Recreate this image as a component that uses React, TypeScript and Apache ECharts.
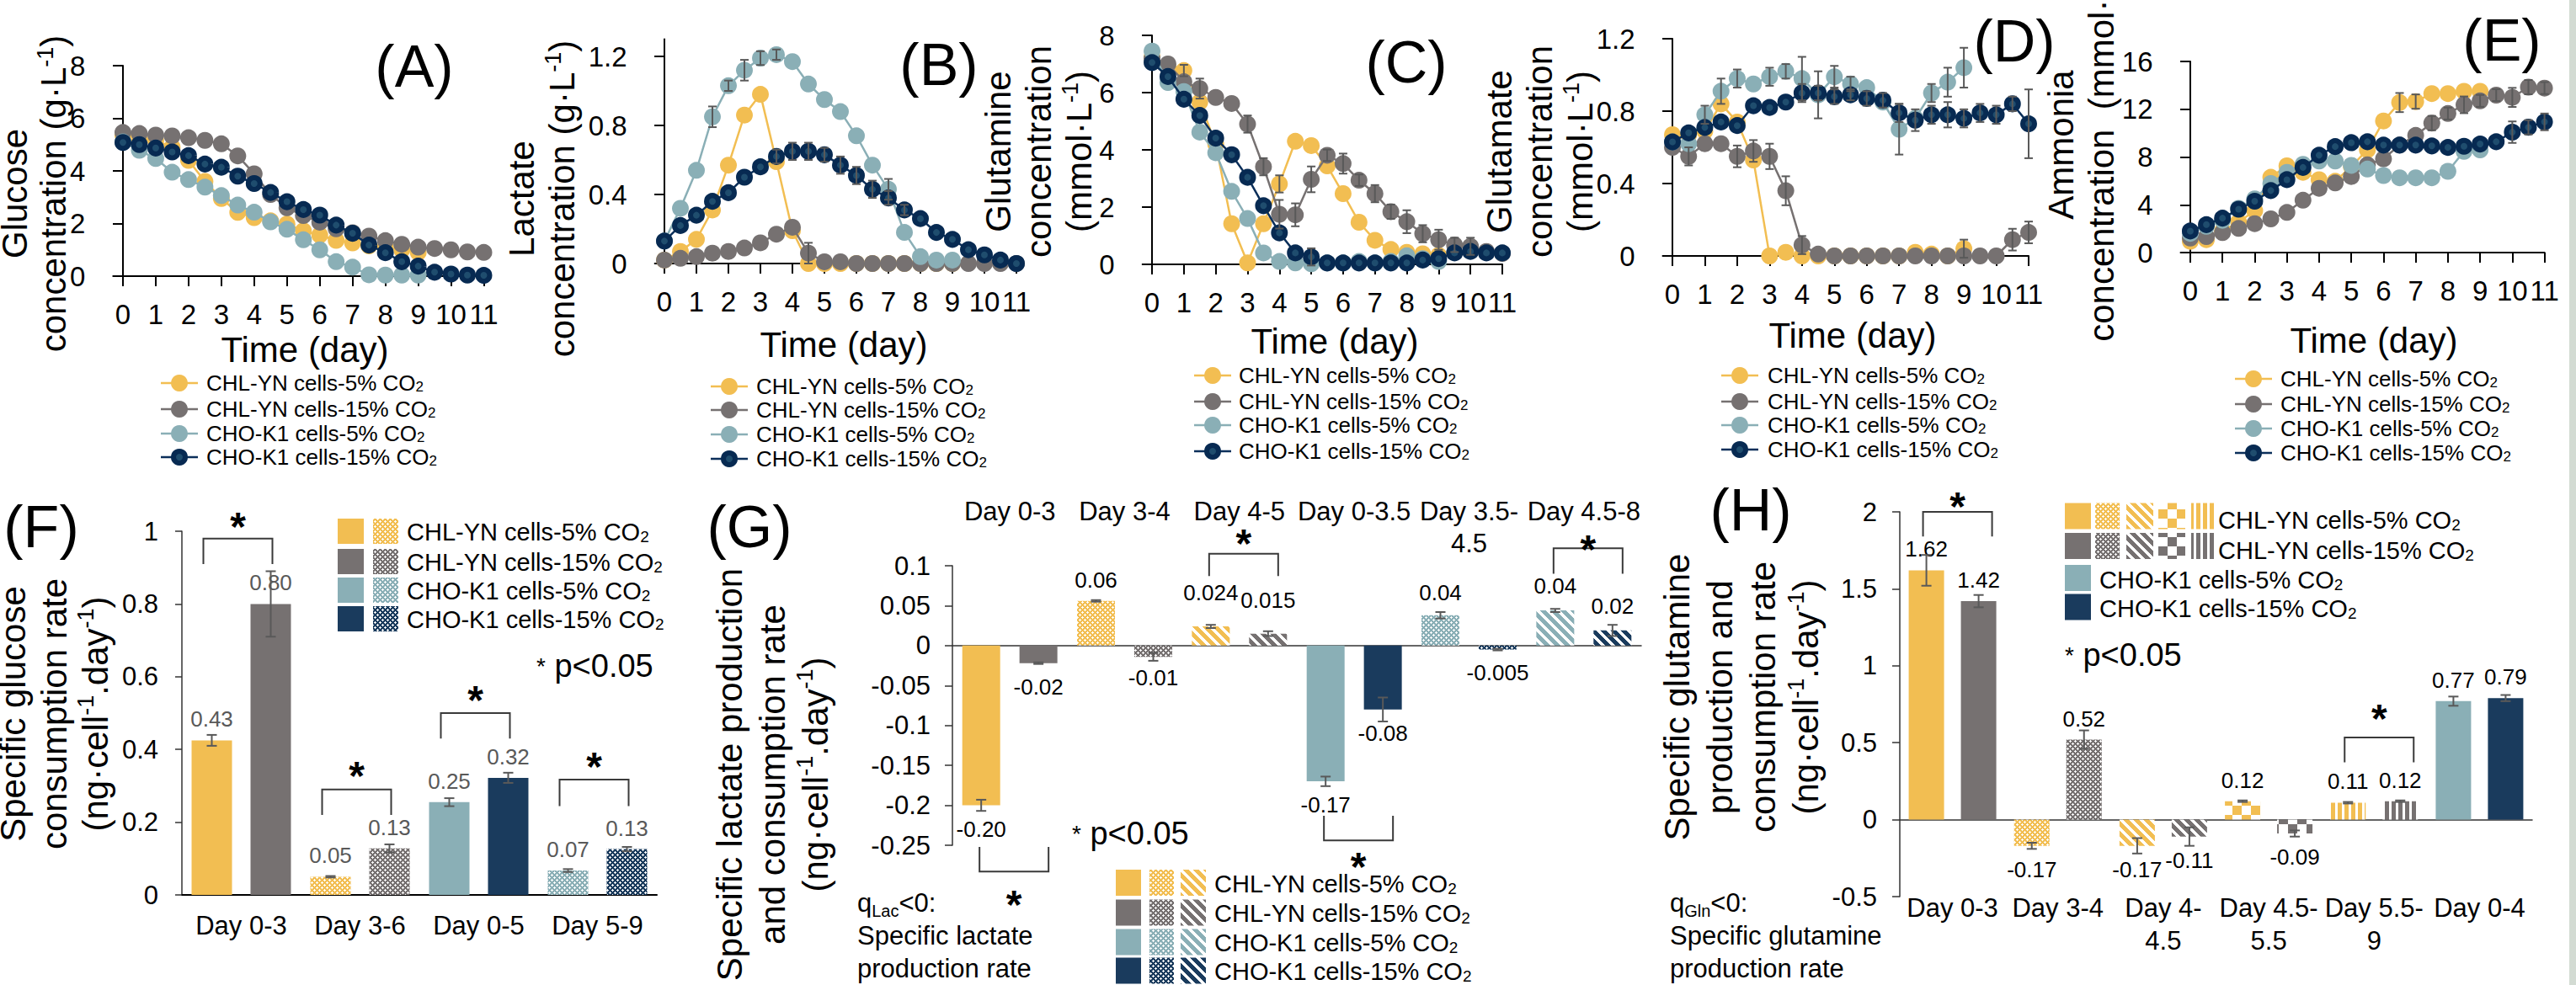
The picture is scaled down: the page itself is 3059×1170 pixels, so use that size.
import React, { useEffect, useRef } from 'react';
import * as echarts from 'echarts';

const FONT = '"Liberation Sans", Arial, Helvetica, sans-serif';

// ---------------- data ----------------
const DAYS = [0, 0.5, 1, 1.5, 2, 2.5, 3, 3.5, 4, 4.5, 5, 5.5, 6, 6.5, 7, 7.5, 8, 8.5, 9, 9.5, 10, 10.5, 11];
const DAY_TICKS = [0, 1, 2, 3, 4, 5, 6, 7, 8, 9, 10, 11];
const SERIES_NAMES = ['CHL-YN cells-5% CO2', 'CHL-YN cells-15% CO2', 'CHO-K1 cells-5% CO2', 'CHO-K1 cells-15% CO2'];
const LEGEND_TEXT = ['CHL-YN cells-5% CO{s|2}', 'CHL-YN cells-15% CO{s|2}', 'CHO-K1 cells-5% CO{s|2}', 'CHO-K1 cells-15% CO{s|2}'];

// (A) glucose, g/L
const A_CHL5 = [5.35, 5.25, 5.15, 4.9, 4.4, 3.6, 2.95, 2.42, 2.22, 2.1, 1.98, 1.72, 1.56, 1.36, 1.26, 1.15, 1.1, 1.0, 0.9];
const A_CHL15 = [5.46, 5.42, 5.36, 5.33, 5.26, 5.16, 5.03, 4.57, 3.89, 3.1, 2.6, 2.3, 2.05, 1.8, 1.65, 1.52, 1.35, 1.21, 1.1, 1.05, 1.0, 0.92, 0.9];
const A_CHO5 = [5.1, 4.78, 4.47, 3.95, 3.67, 3.38, 3.06, 2.7, 2.43, 2.06, 1.78, 1.38, 1.0, 0.55, 0.34, 0.05, 0.04, 0.04, 0.04];
const A_CHO15 = [5.08, 5.0, 4.87, 4.72, 4.58, 4.26, 4.14, 3.8, 3.52, 3.18, 2.83, 2.53, 2.32, 1.94, 1.63, 1.18, 0.89, 0.55, 0.38, 0.15, 0.08, 0.04, 0.03];

// (B) lactate, g/L
const B_CHL5 = [0.02, 0.07, 0.14, 0.31, 0.57, 0.86, 0.98, 0.59, 0.19, 0.0, 0.0, 0.0, 0.0, 0.0, 0.0, 0.0, 0.0, 0.0, 0.0];
const B_CHL15 = [0.02, 0.03, 0.04, 0.06, 0.07, 0.09, 0.12, 0.17, 0.21, 0.06, 0.01, 0.01, 0.0, 0.0, 0.0, 0.0, 0.0, 0.0, 0.0, 0.0, 0.0, 0.0, 0.0];
const B_CHO5 = [0.13, 0.32, 0.54, 0.85, 1.03, 1.12, 1.19, 1.21, 1.17, 1.04, 0.95, 0.88, 0.74, 0.57, 0.43, 0.18, 0.04, 0.02, 0.02];
const B_CHO15 = [0.13, 0.22, 0.28, 0.36, 0.41, 0.5, 0.56, 0.62, 0.65, 0.65, 0.63, 0.57, 0.51, 0.43, 0.38, 0.31, 0.26, 0.18, 0.14, 0.08, 0.05, 0.02, 0.0];
const B_CHL15_ERR = [0, 0, 0, 0, 0, 0, 0, 0, 0, 0.06, 0, 0, 0, 0, 0, 0, 0, 0, 0, 0, 0, 0, 0];
const B_CHO5_ERR = [0, 0, 0, 0.06, 0.03, 0.06, 0.04, 0.03, 0, 0, 0, 0, 0, 0, 0.06, 0, 0, 0, 0];
const B_CHO15_ERR = [0, 0, 0, 0, 0, 0, 0, 0.04, 0.05, 0.05, 0.04, 0.05, 0.05, 0.05, 0.04, 0.03, 0, 0, 0, 0, 0, 0, 0];

// (C) glutamine, mmol/L
const C_CHL5 = [7.24, 6.9, 6.77, 5.67, 4.2, 1.42, 0.05, 1.42, 2.81, 4.3, 4.15, 3.44, 2.47, 1.47, 0.84, 0.52, 0.42, 0.37, 0.31];
const C_CHL15 = [7.2, 7.0, 6.38, 6.14, 5.83, 5.62, 4.9, 3.41, 1.75, 1.73, 2.97, 3.81, 3.52, 2.94, 2.47, 1.84, 1.49, 1.07, 0.86, 0.68, 0.63, 0.45, 0.38];
const C_CHO5 = [7.45, 6.35, 6.04, 4.62, 3.9, 2.55, 1.6, 0.4, 0.1, 0.05, 0.02, 0.05, 0.05, 0.1, 0.05, 0.1, 0.3, 0.2, 0.1];
const C_CHO15 = [7.05, 6.56, 5.77, 5.2, 4.41, 3.83, 3.04, 2.05, 1.1, 0.4, 0.26, 0.05, 0.05, 0.05, 0.05, 0.05, 0.05, 0.15, 0.2, 0.4, 0.45, 0.4, 0.4];
const C_CHL5_ERR = [0, 0, 0.2, 0, 0, 0, 0, 0, 0.3, 0, 0, 0, 0, 0, 0, 0, 0, 0, 0];
const C_CHL15_ERR = [0, 0, 0, 0.35, 0, 0, 0.3, 0.3, 0.5, 0.4, 0.45, 0.2, 0.35, 0.2, 0.3, 0.25, 0.4, 0.3, 0.35, 0.25, 0.3, 0, 0];
const C_CHO15_ERR = [0, 0, 0, 0, 0, 0, 0, 0, 0, 0, 0.3, 0, 0, 0, 0, 0, 0, 0, 0, 0, 0, 0, 0];

// (D) glutamate, mmol/L
const D_CHL5 = [0.67, 0.67, 0.69, 0.84, 0.74, 0.53, 0.0, 0.02, 0.0, 0.0, 0.0, 0.0, 0.0, 0.0, 0.0, 0.02, 0.01, 0.0, 0.04];
const D_CHL15 = [0.6, 0.55, 0.62, 0.62, 0.55, 0.58, 0.55, 0.36, 0.06, 0.01, 0.0, 0.0, 0.0, 0.0, 0.0, 0.0, 0.0, 0.0, 0.0, 0.0, 0.0, 0.09, 0.13];
const D_CHO5 = [0.63, 0.62, 0.78, 0.91, 0.98, 0.95, 0.99, 1.02, 0.98, 0.89, 0.99, 0.95, 0.93, 0.85, 0.7, 0.76, 0.9, 0.96, 1.04];
const D_CHO15 = [0.63, 0.68, 0.71, 0.74, 0.72, 0.83, 0.82, 0.85, 0.9, 0.9, 0.88, 0.89, 0.87, 0.86, 0.79, 0.75, 0.78, 0.78, 0.76, 0.79, 0.78, 0.84, 0.73];
const D_CHL5_ERR = [0, 0, 0, 0, 0, 0, 0, 0, 0, 0, 0, 0, 0, 0, 0, 0, 0, 0, 0.05];
const D_CHL15_ERR = [0, 0.05, 0, 0, 0.06, 0.06, 0.07, 0.08, 0.05, 0, 0, 0, 0, 0, 0, 0, 0, 0, 0, 0, 0, 0.06, 0.06];
const D_CHO5_ERR = [0, 0, 0.05, 0.07, 0.05, 0, 0.05, 0.04, 0.12, 0.13, 0.06, 0.04, 0, 0, 0.14, 0, 0.05, 0.08, 0.11];
const D_CHO15_ERR = [0, 0, 0, 0, 0, 0, 0, 0, 0.05, 0.04, 0.04, 0.03, 0.04, 0.04, 0.05, 0.06, 0.05, 0.07, 0.05, 0.05, 0.05, 0.04, 0.19];

// (E) ammonia, mmol/L
const E_CHL5 = [0.94, 1.08, 1.8, 2.55, 3.5, 6.3, 7.26, 6.72, 6.1, 5.97, 7.2, 8.6, 11.02, 12.56, 12.64, 13.31, 13.31, 13.5, 13.5];
const E_CHL15 = [1.21, 1.34, 1.67, 2.02, 2.42, 2.82, 3.36, 4.38, 5.38, 5.83, 6.37, 7.34, 7.85, 9.0, 9.81, 10.84, 11.64, 12.37, 12.7, 13.18, 12.99, 13.85, 13.77];
const E_CHO5 = [1.61, 2.2, 2.7, 3.7, 4.5, 5.78, 6.72, 7.39, 7.66, 7.66, 7.3, 6.99, 6.45, 6.26, 6.26, 6.26, 6.8, 8.47, 8.6];
const E_CHO15 = [1.8, 2.34, 2.88, 3.63, 4.3, 5.19, 6.1, 7.13, 8.15, 8.87, 9.2, 9.28, 9.0, 9.0, 9.0, 8.93, 8.8, 8.9, 9.09, 9.28, 10.08, 10.49, 10.94];
const E_CHL5_ERR = [0, 0, 0, 0, 0, 0, 0, 0, 0, 0, 0, 0, 0, 0.8, 0.6, 0, 0, 0, 0];
const E_CHL15_ERR = [0, 0, 0, 0, 0, 0, 0, 0, 0, 0, 0, 0, 0, 0, 0, 0.6, 0.5, 0.7, 0.5, 0.5, 0.8, 0.6, 0.5];
const E_CHO15_ERR = [0, 0, 0, 0, 0, 0, 0, 0, 0, 0, 0, 0, 0, 0, 0, 0, 0, 0, 0, 0, 0.9, 0.6, 0.7];

// (F) specific glucose consumption rate
const F_CATS = ['Day 0-3', 'Day 3-6', 'Day 0-5', 'Day 5-9'];
const F_5 = [0.425, 0.05, 0.255, 0.067];
const F_15 = [0.8, 0.128, 0.322, 0.126];
const F_5_ERR = [0.015, 0.002, 0.011, 0.004];
const F_15_ERR = [0.09, 0.011, 0.014, 0.006];
const F_5_LABELS = ['0.43', '0.05', '0.25', '0.07'];
const F_15_LABELS = ['0.80', '0.13', '0.32', '0.13'];
const F_BR_CATS = [0, 1, 2, 3];
const F_BR_TOP = [0.98, 0.29, 0.5, 0.317];
const F_BR_LEG = [0.91, 0.22, 0.43, 0.244];
const F_BR_STAR = [1.035, 0.35, 0.56, 0.377];

// (G) specific lactate production / consumption rate
const G_CATS = ['Day 0-3', 'Day 3-4', 'Day 4-5', 'Day 0-3.5', 'Day 3.5-\n4.5', 'Day 4.5-8'];
const G_5 = [-0.2, 0.056, 0.024, -0.17, 0.038, 0.044];
const G_15 = [-0.022, -0.014, 0.015, -0.08, -0.005, 0.019];
const G_5_ERR = [0.007, 0.001, 0.002, 0.006, 0.004, 0.002];
const G_15_ERR = [0.001, 0.005, 0.003, 0.015, 0.001, 0.007];
const G_5_LABELS = ['-0.20', '0.06', '0.024', '-0.17', '0.04', '0.04'];
const G_15_LABELS = ['-0.02', '-0.01', '0.015', '-0.08', '-0.005', '0.02'];
const G_BR_CATS = [0, 2, 3, 5];
const G_BR_TOP = [-0.283, 0.115, -0.244, 0.122];
const G_BR_LEG = [-0.252, 0.087, -0.213, 0.09];
const G_BR_STAR = [-0.314, 0.138, -0.266, 0.131];

// (H) specific glutamine production / consumption rate
const H_CATS = ['Day 0-3', 'Day 3-4', 'Day 4-\n4.5', 'Day 4.5-\n5.5', 'Day 5.5-\n9', 'Day 0-4'];
const H_5 = [1.62, -0.17, -0.17, 0.12, 0.11, 0.77];
const H_15 = [1.42, 0.52, -0.11, -0.09, 0.12, 0.79];
const H_5_ERR = [0.1, 0.02, 0.05, 0.005, 0.005, 0.03];
const H_15_ERR = [0.04, 0.06, 0.06, 0.02, 0.005, 0.02];
const H_5_LABELS = ['1.62', '-0.17', '-0.17', '0.12', '0.11', '0.77'];
const H_15_LABELS = ['1.42', '0.52', '-0.11', '-0.09', '0.12', '0.79'];
const H_BR_CATS = [0, 4];
const H_BR_TOP = [2.0, 0.534];
const H_BR_LEG = [1.84, 0.372];
const H_BR_STAR = [2.09, 0.714];

// ---------------- styles ----------------
const YEL = '#F2BE52';
const GRY = '#767171';
const TEAL = '#8AAFB6';
const NAVY = '#0B2F5A';
const NAVY_BAR = '#1A3B5D';
const LINE_COLORS = [YEL, GRY, TEAL, NAVY];
const ERR_COLOR = '#595959';

const F_KINDS = ['solid', 'dots', 'solid', 'dots'];
const F_5_COLORS = [YEL, YEL, TEAL, TEAL];
const F_15_COLORS = [GRY, GRY, NAVY_BAR, NAVY_BAR];
const G_KINDS = ['solid', 'dots', 'diag', 'solid', 'dots', 'diag'];
const G_5_COLORS = [YEL, YEL, YEL, TEAL, TEAL, TEAL];
const G_15_COLORS = [GRY, GRY, GRY, NAVY_BAR, NAVY_BAR, NAVY_BAR];
const G_LABEL_GAP = [15, 12, 27, 15, 14, 16];
const H_KINDS = ['solid', 'dots', 'diag', 'checker', 'vstripe', 'solid'];
const H_5_COLORS = [YEL, YEL, YEL, YEL, YEL, TEAL];
const H_15_COLORS = [GRY, GRY, GRY, GRY, GRY, NAVY_BAR];

// ---------------- helpers ----------------
const patternCache: Record<string, any> = {};
function hexRgb(h: string) {
  const n = parseInt(h.slice(1), 16);
  return [(n >> 16) & 255, (n >> 8) & 255, n & 255];
}
function isColored(kind: string, x: number, y: number) {
  const px = x + 0.5, py = y + 0.5;
  if (kind === 'dots') {
    const d1 = (px - 1.5) ** 2 + (py - 1.5) ** 2;
    const d2 = (px - 4.5) ** 2 + (py - 4.5) ** 2;
    return !(d1 <= 1.3 || d2 <= 1.3);
  }
  if (kind === 'diag') return ((((x - y) % 12) + 12) % 12) < 7;
  if (kind === 'checker') return (Math.floor(x / 11) + Math.floor(y / 11)) % 2 === 0;
  if (kind === 'vstripe') return x < 5;
  return true;
}
function fillFor(kind: string, color: string): any {
  if (kind === 'solid') return color;
  const key = kind + color;
  if (patternCache[key]) return patternCache[key];
  const N = kind === 'dots' ? 6 : kind === 'diag' ? 12 : kind === 'checker' ? 22 : 8;
  const cv = document.createElement('canvas');
  cv.width = N; cv.height = N;
  const ctx = cv.getContext('2d') as CanvasRenderingContext2D;
  const img = ctx.createImageData(N, N);
  const [r, g, b] = hexRgb(color);
  for (let y = 0; y < N; y++) {
    for (let x = 0; x < N; x++) {
      const i = (y * N + x) * 4;
      const on = isColored(kind, x, y);
      img.data[i] = on ? r : 255;
      img.data[i + 1] = on ? g : 255;
      img.data[i + 2] = on ? b : 255;
      img.data[i + 3] = 255;
    }
  }
  ctx.putImageData(img, 0, 0);
  const pat = { image: cv.toDataURL(), repeat: 'repeat', imageWidth: N, imageHeight: N };
  patternCache[key] = pat;
  return pat;
}

function errShape(x: number, y1: number, y2: number, cw: number) {
  const st = { stroke: ERR_COLOR, lineWidth: 2 };
  return {
    type: 'group',
    children: [
      { type: 'line', shape: { x1: x, y1, x2: x, y2 }, style: st },
      { type: 'line', shape: { x1: x - cw, y1, x2: x + cw, y2: y1 }, style: st },
      { type: 'line', shape: { x1: x - cw, y1: y2, x2: x + cw, y2 }, style: st },
    ],
  };
}

const axisLineStyle = { color: '#000', width: 2 };

export default function App() {
  const ref = useRef<HTMLDivElement>(null);
  useEffect(() => {
    document.body.style.margin = '0';
    document.body.style.overflow = 'hidden';
    const chart = echarts.init(ref.current as HTMLDivElement, null, { renderer: 'svg', width: 3059, height: 1170 });

    const grids: any[] = [];
    const xAxes: any[] = [];
    const yAxes: any[] = [];
    const series: any[] = [];
    const graphic: any[] = [];

    // ---------- top row line panels ----------
    const TOP = [
      { g: { left: 134.3, top: 78, width: 440.2, height: 250 }, max: 8, ticks: [0, 2, 4, 6, 8],
        data: [A_CHL5, A_CHL15, A_CHO5, A_CHO15], err: [null, null, null, null] },
      { g: { left: 777.6, top: 46.5, width: 429.4, height: 266.5 }, max: 1.3, ticks: [0, 0.4, 0.8, 1.2],
        data: [B_CHL5, B_CHL15, B_CHO5, B_CHO15], err: [null, B_CHL15_ERR, B_CHO5_ERR, B_CHO15_ERR] },
      { g: { left: 1356.7, top: 42, width: 427.3, height: 272 }, max: 8, ticks: [0, 2, 4, 6, 8],
        data: [C_CHL5, C_CHL15, C_CHO5, C_CHO15], err: [C_CHL5_ERR, C_CHL15_ERR, null, C_CHO15_ERR] },
      { g: { left: 1974.5, top: 46, width: 434.5, height: 258 }, max: 1.2, ticks: [0, 0.4, 0.8, 1.2],
        data: [D_CHL5, D_CHL15, D_CHO5, D_CHO15], err: [D_CHL5_ERR, D_CHL15_ERR, D_CHO5_ERR, D_CHO15_ERR] },
      { g: { left: 2589.5, top: 73, width: 432.1, height: 227 }, max: 16, ticks: [0, 4, 8, 12, 16],
        data: [E_CHL5, E_CHL15, E_CHO5, E_CHO15], err: [E_CHL5_ERR, E_CHL15_ERR, null, E_CHO15_ERR] },
    ];

    TOP.forEach((p, k) => {
      grids.push({ ...p.g, containLabel: false });
      xAxes.push({
        type: 'value', gridIndex: k, min: -0.3, max: 11,
        axisLine: { show: true, lineStyle: axisLineStyle },
        axisTick: { show: true, length: 12, customValues: DAY_TICKS, lineStyle: axisLineStyle },
        axisLabel: { customValues: DAY_TICKS, fontSize: 33, fontFamily: FONT, color: '#000', margin: 27, lineHeight: 36 },
        splitLine: { show: false },
      });
      yAxes.push({
        type: 'value', gridIndex: k, min: 0, max: p.max, interval: p.ticks[1],
        axisLine: { show: true, onZero: true, lineStyle: axisLineStyle },
        axisTick: { show: true, length: 12, customValues: p.ticks, lineStyle: axisLineStyle },
        axisLabel: { customValues: p.ticks, fontSize: 33, fontFamily: FONT, color: '#000', margin: 33 },
        splitLine: { show: false },
      });
      p.data.forEach((arr, s) => {
        const isNavy = s === 3;
        series.push({
          type: 'line', name: SERIES_NAMES[s], xAxisIndex: k, yAxisIndex: k, silent: true,
          data: arr.map((v, i) => [DAYS[i], v]),
          symbol: 'circle', symbolSize: isNavy ? 14 : 20,
          lineStyle: { color: LINE_COLORS[s], width: 2.5 },
          itemStyle: isNavy
            ? { color: '#1f4d6e', borderColor: '#072a52', borderWidth: 6 }
            : { color: LINE_COLORS[s], borderWidth: 0 },
          z: 2 + s * 0.1,
        });
      });
      const errData: any[] = [];
      p.err.forEach((e, s) => {
        if (!e) return;
        e.forEach((ev, i) => {
          if (ev > 0) errData.push([DAYS[i], p.data[s][i] - ev, p.data[s][i] + ev]);
        });
      });
      if (errData.length) {
        series.push({
          type: 'custom', xAxisIndex: k, yAxisIndex: k, silent: true, z: 4, clip: false,
          data: errData,
          renderItem: (params: any, api: any) => {
            const a = api.coord([api.value(0), api.value(1)]);
            const b = api.coord([api.value(0), api.value(2)]);
            return errShape(a[0], a[1], b[1], 5);
          },
        });
      }
    });

    // ---------- bottom row bar panels ----------
    function barSeries(name: string, xIdx: number, yIdx: number, vals: number[], labels: string[], kinds: string[], colors: string[], w: number, gap: string, labelColor: string, gaps?: number[]) {
      return {
        type: 'bar', name, xAxisIndex: xIdx, yAxisIndex: yIdx, barWidth: w, barGap: gap, silent: true, z: 2,
        data: vals.map((v, i) => ({
          value: v,
          itemStyle: { color: fillFor(kinds[i], colors[i]) },
          label: {
            show: true, position: v >= 0 ? 'top' : 'bottom', distance: gaps ? gaps[i] : (v >= 0 ? 12 : 15),
            formatter: labels[i], fontSize: 26, fontFamily: FONT, color: labelColor,
          },
        })),
      };
    }
    function barErr(xIdx: number, yIdx: number, a: number[], ae: number[], b: number[], be: number[], off: number) {
      const data: any[] = [];
      a.forEach((v, i) => data.push([i, v - ae[i], v + ae[i], -1]));
      b.forEach((v, i) => data.push([i, v - be[i], v + be[i], 1]));
      return {
        type: 'custom', xAxisIndex: xIdx, yAxisIndex: yIdx, silent: true, z: 4, clip: false, data,
        renderItem: (params: any, api: any) => {
          const p1 = api.coord([api.value(0), api.value(1)]);
          const p2 = api.coord([api.value(0), api.value(2)]);
          return errShape(p1[0] + api.value(3) * off, p1[1], p2[1], 6);
        },
      };
    }
    function brackets(xIdx: number, yIdx: number, cats: number[], tops: number[], legs: number[], stars: number[], off: number, dl: number, dr: number) {
      return {
        type: 'custom', xAxisIndex: xIdx, yAxisIndex: yIdx, silent: true, z: 5, clip: false,
        data: cats.map((c, i) => [c, tops[i], legs[i], stars[i]]),
        renderItem: (params: any, api: any) => {
          const c = api.value(0);
          const ph = api.coord([c, api.value(1)]);
          const pl = api.coord([c, api.value(2)]);
          const ps = api.coord([c, api.value(3)]);
          const xl = ph[0] - off + dl;
          const xr = ph[0] + off + dr;
          return {
            type: 'group',
            children: [
              { type: 'polyline', shape: { points: [[xl, pl[1]], [xl, ph[1]], [xr, ph[1]], [xr, pl[1]]] },
                style: { stroke: '#3a3a3a', lineWidth: 2, fill: 'none' } },
              { type: 'text', style: { text: '*', x: (xl + xr) / 2, y: ps[1] + 10, align: 'center', verticalAlign: 'middle',
                font: `bold 48px ${FONT}`, lineHeight: 22, fill: '#000' } },
            ],
          };
        },
      };
    }
    const smallAxisLine = { color: '#333', width: 1.5 };

    // F : grid 5
    grids.push({ left: 216, top: 631, width: 564, height: 432 });
    xAxes.push({
      type: 'category', gridIndex: 5, data: F_CATS,
      axisLine: { show: true, lineStyle: axisLineStyle }, axisTick: { show: false },
      axisLabel: { fontSize: 31, fontFamily: FONT, color: '#000', margin: 18, lineHeight: 36, interval: 0 },
    });
    yAxes.push({
      type: 'value', gridIndex: 5, min: 0, max: 1, interval: 0.2,
      axisLine: { show: true, lineStyle: smallAxisLine }, axisTick: { show: true, length: 8, lineStyle: smallAxisLine },
      axisLabel: { fontSize: 31, fontFamily: FONT, color: '#000', margin: 28 }, splitLine: { show: false },
    });
    series.push(barSeries('5% CO2', 5, 5, F_5, F_5_LABELS, F_KINDS, F_5_COLORS, 48, '45.8%', '#595959'));
    series.push(barSeries('15% CO2', 5, 5, F_15, F_15_LABELS, F_KINDS, F_15_COLORS, 48, '45.8%', '#595959'));
    series.push(barErr(5, 5, F_5, F_5_ERR, F_15, F_15_ERR, 35));
    series.push(brackets(5, 5, F_BR_CATS, F_BR_TOP, F_BR_LEG, F_BR_STAR, 35, -10, 2));

    // G : grid 6, xAxis 6 (labels, top) & 7 (zero line), yAxis 6
    grids.push({ left: 1131, top: 672, width: 818, height: 332 });
    xAxes.push({
      type: 'category', gridIndex: 6, data: G_CATS, position: 'top',
      axisLine: { show: false, onZero: false }, axisTick: { show: false },
      axisLabel: { fontSize: 31, fontFamily: FONT, color: '#000', margin: 84, lineHeight: 38, verticalAlign: 'top', interval: 0 },
    });
    xAxes.push({
      type: 'category', gridIndex: 6, data: G_CATS, position: 'bottom',
      axisLine: { show: true, onZero: true, lineStyle: smallAxisLine }, axisTick: { show: false }, axisLabel: { show: false },
    });
    yAxes.push({
      type: 'value', gridIndex: 6, min: -0.25, max: 0.1, interval: 0.05,
      axisLine: { show: true, lineStyle: smallAxisLine }, axisTick: { show: true, length: 9, lineStyle: smallAxisLine },
      axisLabel: { fontSize: 31, fontFamily: FONT, color: '#000', margin: 26 }, splitLine: { show: false },
    });
    series.push(barSeries('5% CO2', 6, 6, G_5, G_5_LABELS, G_KINDS, G_5_COLORS, 45, '51%', '#000', G_LABEL_GAP));
    series.push(barSeries('15% CO2', 6, 6, G_15, G_15_LABELS, G_KINDS, G_15_COLORS, 45, '51%', '#000', G_LABEL_GAP));
    series.push(barErr(6, 6, G_5, G_5_ERR, G_15, G_15_ERR, 34));
    series.push(brackets(6, 6, G_BR_CATS, G_BR_TOP, G_BR_LEG, G_BR_STAR, 34, -2, 12));

    // H : grid 7, xAxis 8 (labels) & 9 (zero line), yAxis 7
    grids.push({ left: 2256, top: 608, width: 751, height: 457 });
    xAxes.push({
      type: 'category', gridIndex: 7, data: H_CATS, position: 'bottom',
      axisLine: { show: false, onZero: false }, axisTick: { show: false },
      axisLabel: { fontSize: 31, fontFamily: FONT, color: '#000', margin: -6, lineHeight: 39, verticalAlign: 'top', interval: 0 },
    });
    xAxes.push({
      type: 'category', gridIndex: 7, data: H_CATS, position: 'bottom',
      axisLine: { show: true, onZero: true, lineStyle: smallAxisLine }, axisTick: { show: false }, axisLabel: { show: false },
    });
    yAxes.push({
      type: 'value', gridIndex: 7, min: -0.5, max: 2, interval: 0.5,
      axisLine: { show: true, lineStyle: smallAxisLine }, axisTick: { show: true, length: 9, lineStyle: smallAxisLine },
      axisLabel: { fontSize: 31, fontFamily: FONT, color: '#000', margin: 27 }, splitLine: { show: false },
    });
    series.push(barSeries('5% CO2', 8, 7, H_5, H_5_LABELS, H_KINDS, H_5_COLORS, 42, '47.6%', '#000'));
    series.push(barSeries('15% CO2', 8, 7, H_15, H_15_LABELS, H_KINDS, H_15_COLORS, 42, '47.6%', '#000'));
    series.push(barErr(8, 7, H_5, H_5_ERR, H_15, H_15_ERR, 31));
    series.push(brackets(8, 7, H_BR_CATS, H_BR_TOP, H_BR_LEG, H_BR_STAR, 31, -4, 16));

    // ---------- graphic: titles, legends, notes ----------
    const TITLE_RICH = { sup: { fontSize: 27, lineHeight: 26, verticalAlign: 'top', fontFamily: FONT, fill: '#000', color: '#000' } };
    const text = (x: number, y: number, t: string, size: number, extra: any = {}, el: any = {}) =>
      graphic.push({
        type: 'text', x, y, silent: true, z: 10, ...el,
        style: { text: t, font: `${size}px ${FONT}`, fill: '#000', align: 'center', verticalAlign: 'middle', ...extra },
      });
    const vtitle = (x: number, y: number, lines: string[], lh: number) =>
      text(x, y, lines.join('\n'), 42, { lineHeight: lh, rich: TITLE_RICH }, { rotation: Math.PI / 2 });

    // panel letters
    const LETTERS: [string, number, number][] = [
      ['(A)', 492, 79], ['(B)', 1115, 77], ['(C)', 1670, 74], ['(D)', 2392, 49], ['(E)', 2971, 48],
      ['(F)', 49, 626], ['(G)', 890, 626], ['(H)', 2079, 606],
    ];
    LETTERS.forEach(([t, x, y]) => text(x, y, t, 70));

    // y axis titles
    vtitle(40, 230, ['Glucose', 'concentration (g·L{sup|-1})'], 46);
    vtitle(643, 236, ['Lactate', 'concentration (g·L{sup|-1})'], 48);
    vtitle(1233, 180, ['Glutamine', 'concentration', '(mmol·L{sup|-1})'], 48);
    vtitle(1828, 180, ['Glutamate', 'concentration', '(mmol·L{sup|-1})'], 48);
    vtitle(2471, 172, ['Ammonia', 'concentration  (mmol·L{sup|-1})'], 48);
    vtitle(64, 848, ['Specific glucose', 'consumption rate', '(ng·cell{sup|-1}.day{sup|-1})'], 49);
    vtitle(917, 920, ['Specific lactate production', 'and consumption rate', '(ng·cell{sup|-1}.day{sup|-1})'], 51);
    vtitle(2068, 828, ['Specific glutamine', 'production and', 'consumption rate', '(ng·cell{sup|-1}.day{sup|-1})'], 51);

    // x titles
    [[362, 415], [1002, 409], [1585, 405], [2200, 398], [2819, 404]].forEach(([x, y]) => text(x, y, 'Time (day)', 42));

    // top legends
    const LEG_RICH26 = { s: { fontSize: 17, lineHeight: 14, verticalAlign: 'bottom', fontFamily: FONT, fill: '#000', color: '#000' } };
    const TOP_LEG = [
      { mx: 213, tx: 245, ys: [455, 486, 515, 543] },
      { mx: 866, tx: 898, ys: [459, 487, 516, 545] },
      { mx: 1440, tx: 1471, ys: [446, 477, 505, 536] },
      { mx: 2066, tx: 2099, ys: [446, 477, 505, 534] },
      { mx: 2676, tx: 2708, ys: [450, 480, 509, 538] },
    ];
    TOP_LEG.forEach((L) => {
      L.ys.forEach((y, s) => {
        graphic.push({ type: 'line', silent: true, z: 10, shape: { x1: L.mx - 22, y1: y, x2: L.mx + 22, y2: y }, style: { stroke: LINE_COLORS[s], lineWidth: 2.5 } });
        if (s === 3) {
          graphic.push({ type: 'circle', silent: true, z: 11, shape: { cx: L.mx, cy: y, r: 7 }, style: { fill: '#1f4d6e', stroke: '#072a52', lineWidth: 6 } });
        } else {
          graphic.push({ type: 'circle', silent: true, z: 11, shape: { cx: L.mx, cy: y, r: 10 }, style: { fill: LINE_COLORS[s] } });
        }
        text(L.tx, y, LEGEND_TEXT[s], 26, { align: 'left', lineHeight: 26, rich: LEG_RICH26 });
      });
    });

    // bar legends
    const LEG_RICH29 = { s: { fontSize: 19, lineHeight: 15, verticalAlign: 'bottom', fontFamily: FONT, fill: '#000', color: '#000' } };
    const swatch = (x: number, cy: number, w: number, h: number, fill: any) =>
      graphic.push({ type: 'rect', silent: true, z: 10, shape: { x, y: cy - h / 2, width: w, height: h }, style: { fill } });
    const BAR_LEG_COLORS = [YEL, GRY, TEAL, NAVY_BAR];
    // F legend
    [631, 667, 701, 735].forEach((cy, s) => {
      swatch(401, cy, 31, 30, fillFor('solid', BAR_LEG_COLORS[s]));
      swatch(443, cy, 30, 30, fillFor('dots', BAR_LEG_COLORS[s]));
      text(483, cy + 1, LEGEND_TEXT[s], 29, { align: 'left', lineHeight: 30, rich: LEG_RICH29 });
    });
    // G legend
    [1048.5, 1084, 1119, 1153].forEach((cy, s) => {
      swatch(1325, cy, 30, 31, fillFor('solid', BAR_LEG_COLORS[s]));
      swatch(1365, cy, 29, 31, fillFor('dots', BAR_LEG_COLORS[s]));
      swatch(1402, cy, 30, 31, fillFor('diag', BAR_LEG_COLORS[s]));
      text(1442, cy + 1, LEGEND_TEXT[s], 29, { align: 'left', lineHeight: 30, rich: LEG_RICH29 });
    });
    // H legend
    [613, 648.5].forEach((cy, s) => {
      const col = BAR_LEG_COLORS[s];
      swatch(2452, cy, 31, 31, fillFor('solid', col));
      swatch(2488, cy, 29, 31, fillFor('dots', col));
      swatch(2525, cy, 32, 31, fillFor('diag', col));
      swatch(2563, cy, 32, 31, fillFor('checker', col));
      swatch(2602, cy, 28, 31, fillFor('vstripe', col));
      text(2634, cy + 5, LEGEND_TEXT[s], 29, { align: 'left', lineHeight: 30, rich: LEG_RICH29 });
    });
    [686.5, 721].forEach((cy, i) => {
      swatch(2452, cy, 31, 31, fillFor('solid', BAR_LEG_COLORS[i + 2]));
      text(2493, cy + 2, LEGEND_TEXT[i + 2], 29, { align: 'left', lineHeight: 30, rich: LEG_RICH29 });
    });

    // p-value notes
    const P_RICH = { st: { fontSize: 28, fontFamily: FONT, fill: '#000', color: '#000' } };
    text(637, 791, '{st|*} p<0.05', 38, { align: 'left', rich: P_RICH });
    text(1273, 990, '{st|*} p<0.05', 38, { align: 'left', rich: P_RICH });
    text(2452, 778, '{st|*} p<0.05', 38, { align: 'left', rich: P_RICH });

    // q notes
    const Q_RICH = { sub: { fontSize: 20, lineHeight: 14, verticalAlign: 'bottom', fontFamily: FONT, fill: '#000', color: '#000' } };
    text(1018, 1053, 'q{sub|Lac}<0:\nSpecific lactate\nproduction rate', 31, { align: 'left', verticalAlign: 'top', lineHeight: 39, rich: Q_RICH });
    text(1983, 1053, 'q{sub|Gln}<0:\nSpecific glutamine\nproduction rate', 31, { align: 'left', verticalAlign: 'top', lineHeight: 39, rich: Q_RICH });

    // right edge strip
    graphic.push({ type: 'rect', silent: true, z: 0, shape: { x: 3051, y: 0, width: 8, height: 1170 }, style: { fill: '#d3dbd3' } });

    chart.setOption({
      animation: false,
      backgroundColor: '#ffffff',
      textStyle: { fontFamily: FONT },
      grid: grids,
      xAxis: xAxes,
      yAxis: yAxes,
      series,
      graphic: { elements: graphic },
    });
    return () => chart.dispose();
  }, []);
  return <div ref={ref} style={{ width: 3059, height: 1170, background: '#fff' }} />;
}
